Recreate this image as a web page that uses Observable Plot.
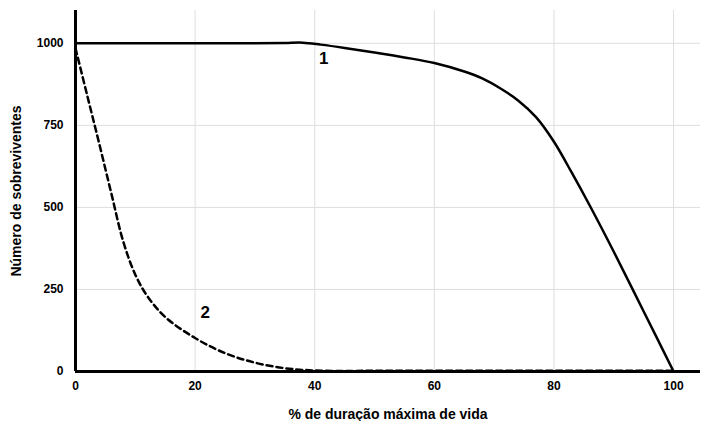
<!DOCTYPE html>
<html>
<head>
<meta charset="utf-8">
<script src="https://cdn.jsdelivr.net/npm/d3@7"></script>
<script src="https://cdn.jsdelivr.net/npm/@observablehq/plot@0.6"></script>
<style>
  html, body { margin: 0; padding: 0; background: #fff; }
</style>
</head>
<body>
<div id="chart"></div>
<script>
// Curve 1 (solid)
const x1 = [0, 10, 20, 30, 35, 38, 41, 45, 50, 55, 60, 65, 68, 71, 74, 77, 80, 83, 86, 90, 95, 100];
const y1 = [1000, 1000, 1000, 1000, 1001, 1002, 996, 986, 972, 957, 940, 914, 893, 863, 826, 775, 700, 605, 505, 365, 183, 0];
// Curve 2 (dashed)
const x2 = [0, 2, 4, 6, 8, 10, 12, 15, 20, 25, 30, 35, 40, 50, 60, 70, 80, 90, 100];
const y2 = [985, 838, 692, 542, 395, 295, 230, 166, 102, 56, 27, 10, 3, 2, 2, 2, 2, 2, 2];

const xTicks = [0, 20, 40, 60, 80, 100];
const yTicks = [0, 250, 500, 750, 1000];
const xGrid = [20, 40, 60, 80, 100];
const yGrid = [250, 500, 750, 1000];

const labelText = ["1", "2"];
const labelX = [41.5, 21.7];
const labelY = [955, 180];

const s1 = x1.map((x, i) => ({x, y: y1[i]}));
const s2 = x2.map((x, i) => ({x, y: y2[i]}));
const labels = labelText.map((t, i) => ({t, x: labelX[i], y: labelY[i]}));

const chart = Plot.plot({
  width: 702,
  height: 421,
  marginLeft: 75,
  marginRight: 2,
  marginTop: 10,
  marginBottom: 50,
  x: {domain: [0, 104.5]},
  y: {domain: [0, 1100]},
  style: {fontFamily: "'Liberation Sans', Arial, sans-serif", fontWeight: "bold", fontSize: "12px", color: "black", background: "white"},
  marks: [
    Plot.ruleX(xGrid, {stroke: "#dedede", strokeWidth: 1}),
    Plot.ruleY(yGrid, {stroke: "#dedede", strokeWidth: 1}),
    Plot.line(s2, {x: "x", y: "y", curve: "catmull-rom", stroke: "black", strokeWidth: 2.5, strokeDasharray: "6,4"}),
    Plot.line(s1, {x: "x", y: "y", curve: "catmull-rom", stroke: "black", strokeWidth: 2.5}),
    Plot.ruleX([0], {stroke: "black", strokeWidth: 3}),
    Plot.ruleY([0], {stroke: "black", strokeWidth: 3}),
    Plot.axisX({ticks: xTicks, tickFormat: d => String(d), tickSize: 0, tickPadding: 10, label: "% de duração máxima de vida", labelAnchor: "center", labelArrow: "none", labelOffset: 47}),
    Plot.axisY({ticks: yTicks, tickFormat: d => String(d), tickSize: 0, tickPadding: 12, label: "Número de sobreviventes", labelAnchor: "center", labelArrow: "none", labelOffset: 64}),
    Plot.text(labels, {x: "x", y: "y", text: "t", fontSize: 17, fontWeight: "bold"})
  ]
});
chart.querySelectorAll('[aria-label="x-axis label"] text, [aria-label="y-axis label"] text').forEach(t => t.setAttribute("font-size", "14"));
document.getElementById("chart").appendChild(chart);
</script>
</body>
</html>
